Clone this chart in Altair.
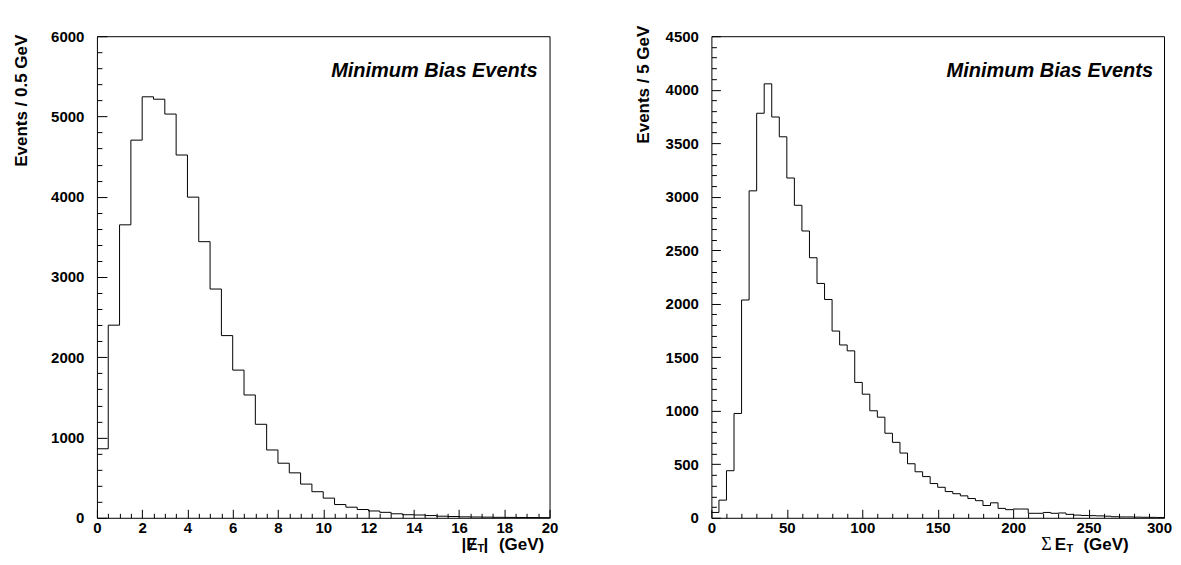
import altair as alt
import numpy as np
import pandas as pd

# ---- data ----
met_counts = [860, 2400, 3650, 4705, 5245, 5215, 5030, 4520, 3995, 3440,
              2850, 2270, 1840, 1530, 1165, 845, 680, 560, 420, 325,
              245, 165, 132, 103, 85, 68, 50, 38, 35, 28,
              20, 16, 12, 10, 8, 6, 5, 4, 3, 2]
met_bin_width = 0.5

set_counts = [50, 165, 440, 975, 2035, 3055, 3780, 4055, 3745, 3560,
              3175, 2920, 2680, 2430, 2190, 2040, 1745, 1615, 1560, 1265,
              1155, 1000, 940, 790, 705, 605, 505, 430, 385, 320,
              285, 245, 225, 205, 180, 160, 115, 140, 88, 76,
              82, 82, 42, 42, 50, 42, 45, 32, 25, 22,
              20, 18, 15, 10, 8, 8, 6, 5, 4, 3]
set_bin_width = 5

met_x_labels = [0, 2, 4, 6, 8, 10, 12, 14, 16, 18, 20]
met_y_labels = [0, 1000, 2000, 3000, 4000, 5000, 6000]
set_x_labels = [0, 50, 100, 150, 200, 250, 300]
set_y_labels = [0, 500, 1000, 1500, 2000, 2500, 3000, 3500, 4000, 4500]

FONT = "Liberation Sans"
W, H = 453, 482


def hist_df(counts, width):
    edges = np.arange(len(counts) + 1) * width
    vals = list(counts) + [counts[-1]]
    return pd.DataFrame({"x": edges, "y": vals})


def txt(text, x, y, size, align, style="normal", font=FONT, weight="bold"):
    return alt.Chart(alt.Data(values=[{}])).mark_text(
        text=text, align=align, baseline="alphabetic", font=font,
        fontSize=size, fontWeight=weight, fontStyle=style, color="black"
    ).encode(x=alt.value(x), y=alt.value(y))


def panel(counts, width, xmax, ymax, xlabels, ylabels, xminor, xmajor,
          yminor, ymajor, ytitle, title_x, title_y, xmaj_len, ymaj_len, texts,
          last_label_shift=0):
    df = hist_df(counts, width)
    xs = alt.Scale(domain=[0, xmax], nice=False, zero=False)
    ys = alt.Scale(domain=[0, ymax], nice=False, zero=False)
    xticks = [float(v) for v in np.arange(0, xmax + xminor / 2, xminor)]
    yticks = [float(v) for v in np.arange(0, ymax + yminor / 2, yminor)]
    base = alt.Chart(df)
    hist = base.mark_line(interpolate="step-after", color="black", strokeWidth=1).encode(
        x=alt.X("x:Q", scale=xs, axis=alt.Axis(
            orient="bottom", values=xlabels, format="d", ticks=False, tickSize=0,
            domain=False, grid=False, labelFlush=False, labelOverlap=False,
            labelFont=FONT, labelFontSize=15, labelFontWeight="bold",
            labelColor="black", labelPadding=3, title=None,
            labelOffset={"condition": {"test": f"datum.value === {xmax}",
                                       "value": last_label_shift}, "value": 0})),
        y=alt.Y("y:Q", scale=ys, axis=alt.Axis(
            orient="left", values=ylabels, format="d", ticks=False, tickSize=0,
            domain=False, grid=False, labelFlush=False, labelOverlap=False,
            labelFont=FONT, labelFontSize=15, labelFontWeight="bold",
            labelColor="black", labelPadding=13, title=ytitle, titleFont=FONT,
            titleFontSize=17, titleFontWeight="bold", titleColor="black",
            titleAngle=-90, titleAlign="right", titleBaseline="middle",
            titleX=title_x, titleY=title_y)),
    )
    ticks = base.mark_line(opacity=0).encode(
        x=alt.X("x:Q", scale=xs, axis=alt.Axis(
            orient="top", offset=-H, values=xticks, labels=False, domain=False,
            grid=False, ticks=True, tickColor="black", tickWidth=1,
            tickSize={"condition": {"test": f"datum.value % {xmajor} === 0",
                                    "value": xmaj_len}, "value": 4.5},
            title=None)),
        y=alt.Y("y:Q", scale=ys, axis=alt.Axis(
            orient="right", offset=-W, values=yticks, labels=False, domain=False,
            grid=False, ticks=True, tickColor="black", tickWidth=1,
            tickSize={"condition": {"test": f"datum.value % {ymajor} === 0",
                                    "value": ymaj_len}, "value": 5},
            title=None)),
    )
    return alt.layer(hist, ticks, *texts).resolve_axis(
        x="independent", y="independent").properties(width=W, height=H)


TB = H + 32   # title baseline (kept inside the page)
SB = H + 34   # subscript baseline

left_texts = [
    txt("Minimum Bias Events", W - 12, 41, 20, "right", style="italic"),
    txt("|\u0246", 381, TB, 17, "right", font="Liberation Sans, DejaVu Sans"),
    txt("T", 381, SB, 11, "left"),
    txt("|", 387, TB, 17, "left"),
    txt("(GeV)", 425, TB, 17, "center"),
]
right_texts = [
    txt("Minimum Bias Events", W - 11, 41, 20, "right", style="italic"),
    txt("\u03a3", 340.5, TB, 18, "right", font="Liberation Serif", weight="normal"),
    txt("E", 355, TB, 17, "right"),
    txt("T", 355.5, SB, 11, "left"),
    txt("(GeV)", 395, TB, 17, "center"),
]

left = panel(met_counts, met_bin_width, 20, 6000, met_x_labels, met_y_labels,
             0.5, 2, 200, 1000, "Events / 0.5 GeV", -75, -2, 8.5, 10, left_texts)
right = panel(set_counts, set_bin_width, 300, 4500, set_x_labels, set_y_labels,
              10, 50, 100, 500, "Events / 5 GeV", -68, -11, 8.5, 9, right_texts,
              last_label_shift=-5)

chart = alt.hconcat(left, right, spacing=162, bounds="flush").configure_view(
    stroke="black", strokeWidth=1
).properties(
    padding={"left": 4, "top": 16, "right": 0, "bottom": 0},
    background="white",
)

chart.save("out.html", embed_options={"renderer": "svg", "actions": False})
